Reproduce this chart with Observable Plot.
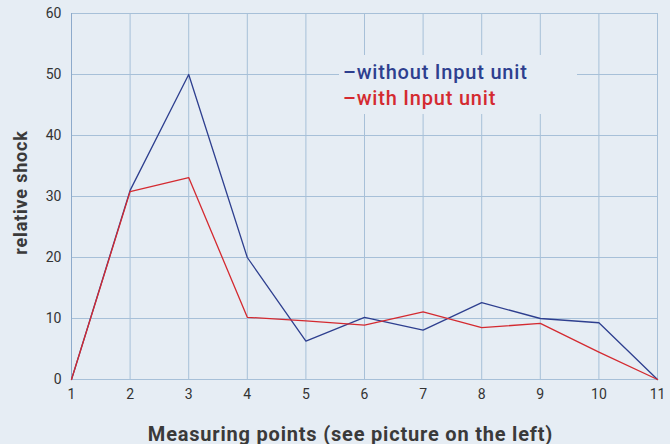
<!DOCTYPE html>
<html>
<head>
<meta charset="utf-8">
<script src="https://cdn.jsdelivr.net/npm/d3@7"></script>
<script src="https://cdn.jsdelivr.net/npm/@observablehq/plot@0.6"></script>
<style>
  html, body { margin: 0; padding: 0; background: #e6edf4; }
  #wrap { position: relative; width: 670px; height: 444px; font-family: Roboto, "DejaVu Sans", sans-serif; }
  #legend { position: absolute; left: 339px; top: 55px; width: 238px; height: 59px; background: #e6edf4;
            font-size: 20px; font-weight: 500; line-height: 26px; letter-spacing: 0.8px;
            padding-top: 4px; padding-left: 4px; box-sizing: border-box; }
</style>
</head>
<body>
<div id="wrap"></div>
<script>
const points = [1, 2, 3, 4, 5, 6, 7, 8, 9, 10, 11];
const withoutInput = [0, 31, 50, 20, 6.3, 10.2, 8.1, 12.6, 10, 9.3, 0];
const withInput = [0, 30.8, 33.1, 10.2, 9.6, 8.9, 11.1, 8.5, 9.2, 4.5, 0];
const seriesNames = ["without Input unit", "with Input unit"];
const seriesColors = ["#2e3f8f", "#d42a30"];
const yTicks = [0, 10, 20, 30, 40, 50, 60];
const xTitle = "Measuring points (see picture on the left)";
const yTitle = "relative shock";

const rows = [];
points.forEach((p, i) => {
  rows.push({x: p, y: withoutInput[i], s: seriesNames[0]});
  rows.push({x: p, y: withInput[i], s: seriesNames[1]});
});

const chart = Plot.plot({
  width: 670,
  height: 444,
  marginLeft: 71,
  marginRight: 13,
  marginTop: 13,
  marginBottom: 65,
  style: {background: "#e6edf4", fontFamily: "Roboto, 'DejaVu Sans', sans-serif", fontSize: "14px", color: "#333"},
  x: {domain: [1, 11], ticks: points, tickFormat: d => d, label: null},
  y: {domain: [0, 60], ticks: yTicks, label: null},
  color: {domain: seriesNames, range: seriesColors},
  marks: [
    Plot.gridX(points, {stroke: "#a7c0d8", strokeOpacity: 1, strokeWidth: 1}),
    Plot.gridY(yTicks, {stroke: "#a7c0d8", strokeOpacity: 1, strokeWidth: 1}),
    Plot.ruleX([1], {stroke: "#8daacb"}),
    Plot.axisX(points, {tickSize: 0, tickPadding: 10, fontSize: 14, fill: "#333"}),
    Plot.axisY(yTicks, {tickSize: 0, tickPadding: 10, fontSize: 14, fill: "#333"}),
    Plot.text([xTitle], {frameAnchor: "bottom", textAnchor: "middle", dx: -14, dy: 61, fontSize: 20, fontWeight: "bold", fill: "#3a3a3a"}),
    Plot.text([yTitle], {frameAnchor: "left", textAnchor: "middle", lineAnchor: "middle", dx: -50, dy: -4, rotate: -90, fontSize: 18, fontWeight: "bold", fill: "#3a3a3a"}),
    Plot.line(rows, {x: "x", y: "y", z: "s", stroke: "s", strokeWidth: 1.3})
  ]
});

d3.select(chart).selectAll("text")
  .filter(function() { return this.textContent === xTitle || this.textContent === yTitle; })
  .style("letter-spacing", "0.8px");

const wrap = document.getElementById("wrap");
wrap.appendChild(chart);
const legend = document.createElement("div");
legend.id = "legend";
seriesNames.forEach((n, i) => {
  const d = document.createElement("div");
  d.style.color = seriesColors[i];
  d.textContent = "\u2013" + n;
  legend.appendChild(d);
});
wrap.appendChild(legend);
</script>
</body>
</html>
